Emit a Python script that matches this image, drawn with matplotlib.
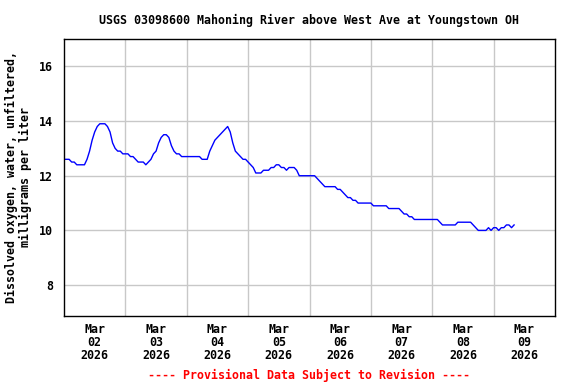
import matplotlib
matplotlib.use("Agg")
from matplotlib import pyplot as plt
import numpy as np

# hourly readings starting Mar 02 2026 00:00 (mg/L)
do_mgl = [
    12.6, 12.6, 12.6, 12.5, 12.5, 12.4, 12.4, 12.4, 12.4, 12.6,
    12.9, 13.3, 13.6, 13.8, 13.9, 13.9, 13.9, 13.8, 13.6, 13.2,
    13.0, 12.9, 12.9, 12.8, 12.8, 12.8, 12.7, 12.7, 12.6, 12.5,
    12.5, 12.5, 12.4, 12.5, 12.6, 12.8, 12.9, 13.2, 13.4, 13.5,
    13.5, 13.4, 13.1, 12.9, 12.8, 12.8, 12.7, 12.7, 12.7, 12.7,
    12.7, 12.7, 12.7, 12.7, 12.6, 12.6, 12.6, 12.9, 13.1, 13.3,
    13.4, 13.5, 13.6, 13.7, 13.8, 13.6, 13.2, 12.9, 12.8, 12.7,
    12.6, 12.6, 12.5, 12.4, 12.3, 12.1, 12.1, 12.1, 12.2, 12.2,
    12.2, 12.3, 12.3, 12.4, 12.4, 12.3, 12.3, 12.2, 12.3, 12.3,
    12.3, 12.2, 12.0, 12.0, 12.0, 12.0, 12.0, 12.0, 12.0, 11.9,
    11.8, 11.7, 11.6, 11.6, 11.6, 11.6, 11.6, 11.5, 11.5, 11.4,
    11.3, 11.2, 11.2, 11.1, 11.1, 11.0, 11.0, 11.0, 11.0, 11.0,
    11.0, 10.9, 10.9, 10.9, 10.9, 10.9, 10.9, 10.8, 10.8, 10.8,
    10.8, 10.8, 10.7, 10.6, 10.6, 10.5, 10.5, 10.4, 10.4, 10.4,
    10.4, 10.4, 10.4, 10.4, 10.4, 10.4, 10.4, 10.3, 10.2, 10.2,
    10.2, 10.2, 10.2, 10.2, 10.3, 10.3, 10.3, 10.3, 10.3, 10.3,
    10.2, 10.1, 10.0, 10.0, 10.0, 10.0, 10.1, 10.0, 10.1, 10.1,
    10.0, 10.1, 10.1, 10.2, 10.2, 10.1, 10.2,
]
hours = np.arange(len(do_mgl))

day_labels = ["Mar\n02\n2026", "Mar\n03\n2026", "Mar\n04\n2026", "Mar\n05\n2026",
              "Mar\n06\n2026", "Mar\n07\n2026", "Mar\n08\n2026", "Mar\n09\n2026"]
y_ticks = [8, 10, 12, 14, 16]

mono = "DejaVu Sans Mono"
fs = 8.4

fig = plt.figure(figsize=(5.76, 3.84), dpi=100)
ax = fig.add_axes([64 / 576, 1 - 316 / 384, 491 / 576, 277 / 384])

ax.plot(hours, do_mgl, color="#0000ff", lw=1.0)

ax.set_xlim(0, 192)
ax.set_ylim(6.87, 17.0)

ax.set_xticks(np.arange(24, 192, 24))
ax.set_xticklabels([])
ax.set_xticks(np.arange(12, 192, 24), minor=True)
ax.set_xticklabels(day_labels, minor=True, family=mono, weight="bold", fontsize=fs,
                   linespacing=0.98)
ax.set_yticks(y_ticks)
ax.set_yticklabels([str(v) for v in y_ticks], family=mono, weight="bold", fontsize=fs)
ax.tick_params(which="both", length=0, pad=5)
ax.tick_params(axis="y", pad=8)

ax.grid(True, which="major", color="#c8c8c8", lw=1)
ax.set_axisbelow(True)
for s in ax.spines.values():
    s.set_linewidth(1)

fig.text(309 / 576, 1 - 20 / 384, "USGS 03098600 Mahoning River above West Ave at Youngstown OH",
         ha="center", va="center", family=mono, weight="bold", fontsize=fs)
fig.text(18.5 / 576, 1 - 177 / 384, "Dissolved oxygen, water, unfiltered,\nmilligrams per liter",
         ha="center", va="center", rotation=90, family=mono, weight="bold", fontsize=fs,
         linespacing=1.05)
fig.text(309 / 576, 1 - 375 / 384, "---- Provisional Data Subject to Revision ----",
         ha="center", va="center", color="red", family=mono, weight="bold", fontsize=fs)

fig.savefig("out.png", dpi=100)
